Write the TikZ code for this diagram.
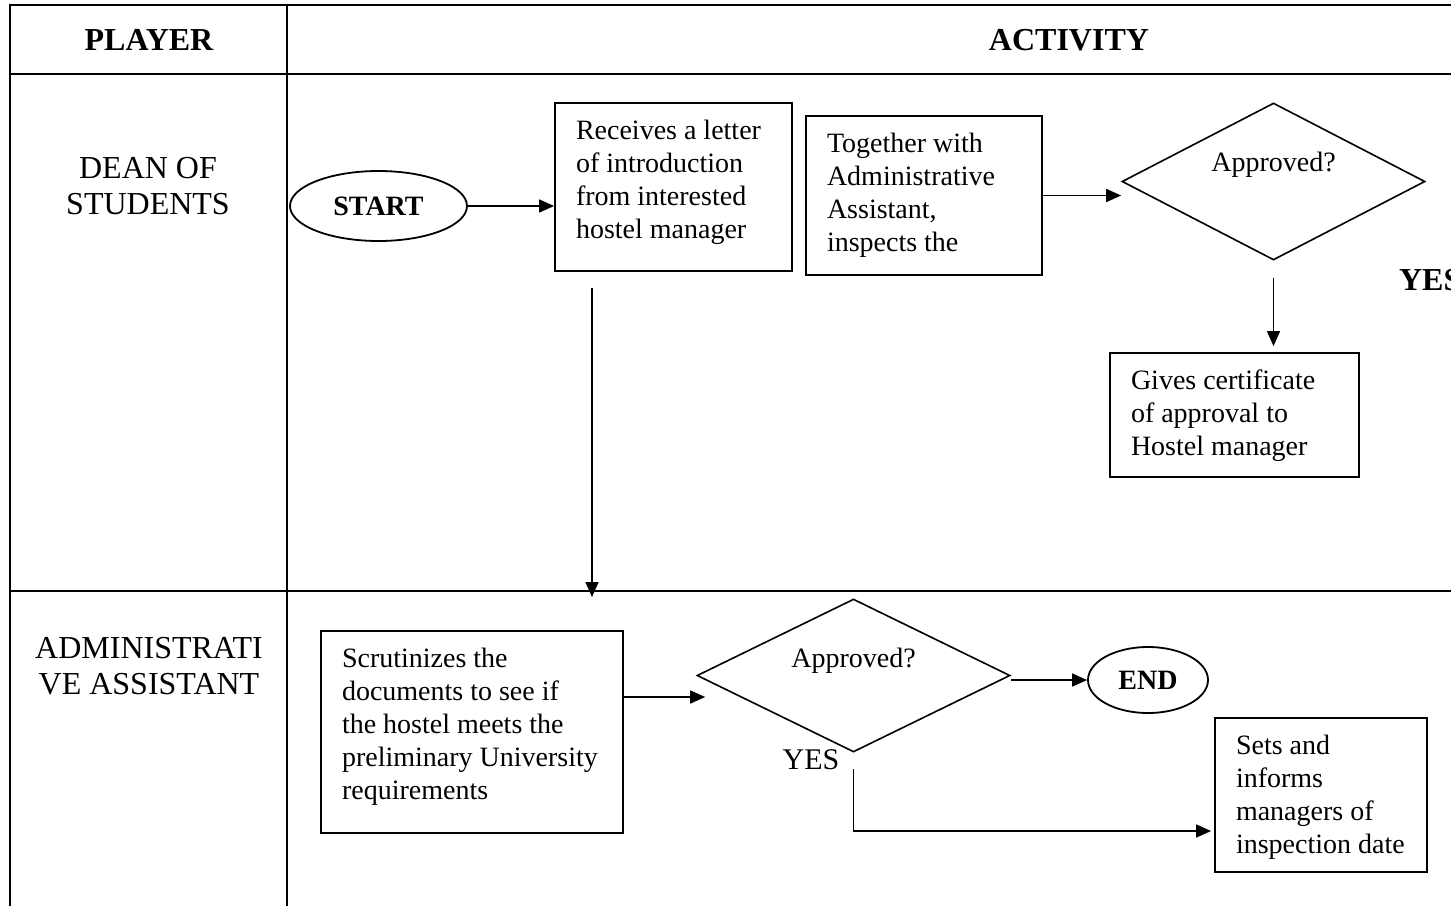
\documentclass[tikz,border=0pt]{standalone}
\usepackage{fontspec}
\setmainfont{Liberation Serif}
\usetikzlibrary{shapes.geometric,arrows.meta}
\newcommand\bxt[3]{\parbox[c][#2][t]{#1}{\fontsize{14}{16.5}\selectfont\setlength\parindent{0pt}\setlength\leftskip{10.5pt}\vspace*{6.8pt}\strut#3}}
\begin{document}
\begin{tikzpicture}[x=0.5pt,y=-0.5pt,
 tbl/.style={line width=1.4pt},
 box/.style={draw, line width=0.9pt, inner sep=0pt},
 dmd/.style={draw, diamond, line width=0.8pt, inner sep=0pt},
 oval/.style={draw, ellipse, line width=0.9pt, inner sep=0pt, font=\fontsize{14}{16}\selectfont\bfseries},
 arr/.style={line width=0.8pt, -{Triangle[length=7.5pt,width=6.5pt]}},
 lbl/.style={font=\fontsize{16}{18}\selectfont, align=center},
 hdr/.style={font=\fontsize{16}{18}\selectfont\bfseries},
 qtxt/.style={font=\fontsize{14}{16}\selectfont}]
\useasboundingbox (0,0) rectangle (1451,905);
\clip (0,0) rectangle (1451,905);
% table
\draw[tbl] (1460,5) -- (10,5) -- (10,910);
\draw[tbl] (287,5) -- (287,910);
\draw[tbl] (10,74) -- (1460,74);
\draw[tbl] (10,591) -- (1460,591);
% headers and lane labels
\node[hdr] (hplayer) at (149,40) {PLAYER};
\node[hdr] (hact) at (1069,40) {ACTIVITY};
\node[lbl] (ldean) at (148,186) {DEAN OF\\STUDENTS};
\node[lbl] (ladm) at (149,666) {ADMINISTRATI\\VE ASSISTANT};
% dean lane
\node[oval, minimum width=88.5pt, minimum height=35pt] (start) at (378.5,206) {START};
\node[box] (recv) at (673.5,187) {\bxt{118.5pt}{84pt}{Receives a letter\\of introduction\\from interested\\hostel manager}};
\node[box] (tog) at (924,195.5) {\bxt{118pt}{79.5pt}{Together with\\Administrative\\Assistant,\\inspects the}};
\node[dmd, minimum width=151.5pt, minimum height=78.5pt] (dia1) at (1273.5,181.5) {};
\node[qtxt] (q1) at ([yshift=8.25pt]dia1.center) {Approved?};
\node[box] (cert) at (1234.5,415) {\bxt{124.5pt}{62pt}{Gives certificate\\of approval to\\Hostel manager}};
\node[hdr, anchor=west] (yes1) at (1392,280) {YES};
% admin lane
\node[box] (scr) at (472,732) {\bxt{151pt}{101pt}{Scrutinizes the\\documents to see if\\the hostel meets the\\preliminary University\\requirements}};
\node[dmd, minimum width=156.5pt, minimum height=76.5pt] (dia2) at (853.5,675.5) {};
\node[qtxt] (q2) at ([yshift=7.25pt]dia2.center) {Approved?};
\node[oval, minimum width=60pt, minimum height=33pt] (end) at (1148,680) {END};
\node[box] (sets) at (1321,795) {\bxt{106pt}{77pt}{Sets and\\informs\\managers of\\inspection date}};
\node[font=\fontsize{15}{17}\selectfont] (yes2) at (811,760) {YES};
% connectors
\draw[arr] (start.east) -- (start.east -| recv.west);
\coordinate (a1) at (592,288);
\coordinate (a2) at (592,597);
\draw[arr] (a1) -- (a2);
\draw[arr] (tog.east) -- (tog.east -| dia1.west);
\draw[arr, shorten >=3pt] ([yshift=-8.5pt]dia1.south) -- (dia1.south |- cert.north);
\coordinate (p2) at ([yshift=17.5pt]scr.east);
\draw[arr] (p2) -- ([xshift=4.5pt]p2 -| dia2.west);
\draw[arr] (end.west -| dia2.east) -- (end.west);
\draw[arr, shorten >=1.5pt] ([yshift=-8pt]dia2.south) |- ([yshift=-18pt]sets.west);
\end{tikzpicture}
\end{document}
